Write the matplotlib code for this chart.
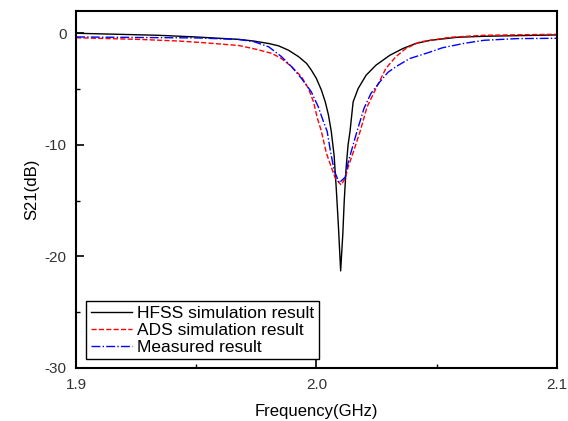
import matplotlib
matplotlib.use("Agg")
import matplotlib.pyplot as plt
from matplotlib.ticker import MultipleLocator

plt.rcParams['font.family'] = ['Liberation Sans', 'DejaVu Sans']
plt.rcParams['axes.unicode_minus'] = False

# HFSS simulation (GHz, dB)
hfss_f = [1.9000, 1.9339, 1.9496, 1.9678, 1.9740, 1.9802, 1.9843, 1.9884, 1.9926,
          1.9959, 1.9979, 2.0000, 2.0021, 2.0037, 2.0050, 2.0062, 2.0074, 2.0083,
          2.0091, 2.0101, 2.0110, 2.0116, 2.0124, 2.0132, 2.0140, 2.0153, 2.0174,
          2.0207, 2.0248, 2.0306, 2.0360, 2.0413, 2.0475, 2.0587, 2.0698, 2.1000]
hfss_db = [0.0, -0.18, -0.33, -0.55, -0.7, -0.92, -1.13, -1.52, -2.1,
           -2.7, -3.3, -4.05, -5.1, -6.15, -7.3, -8.8, -11.0, -14.0,
           -17.0, -21.3, -18.0, -15.0, -12.0, -10.0, -8.8, -6.15, -4.95,
           -3.76, -2.86, -1.97, -1.37, -0.92, -0.63, -0.36, -0.27, -0.15]

# ADS simulation
ads_f = [1.9000, 1.9264, 1.9430, 1.9533, 1.9678, 1.9752, 1.9814, 1.9855, 1.9897,
         1.9938, 1.9967, 1.9988, 2.0004, 2.0021, 2.0041, 2.0062, 2.0079, 2.0103,
         2.0120, 2.0132, 2.0153, 2.0182, 2.0211, 2.0248, 2.0289, 2.0331, 2.0372,
         2.0430, 2.0475, 2.0558, 2.0698, 2.0971, 2.1000]
ads_db = [-0.4, -0.55, -0.7, -0.85, -1.1, -1.45, -1.8, -2.27, -3.0,
          -3.9, -4.95, -6.15, -7.6, -8.8, -10.7, -12.0, -13.0, -13.6,
          -13.0, -12.0, -10.7, -8.8, -6.6, -4.95, -3.16, -2.1, -1.37,
          -0.78, -0.63, -0.36, -0.18, -0.1, -0.1]

# Measured
meas_f = [1.9000, 1.9264, 1.9510, 1.9678, 1.9740, 1.9802, 1.9855, 1.9897, 1.9938,
          1.9979, 2.0008, 2.0029, 2.0045, 2.0058, 2.0074, 2.0095, 2.0120, 2.0132,
          2.0149, 2.0169, 2.0198, 2.0227, 2.0264, 2.0298, 2.0331, 2.0388, 2.0471,
          2.0525, 2.0616, 2.0698, 2.0835, 2.1000]
meas_db = [-0.33, -0.38, -0.42, -0.56, -0.75, -1.22, -2.1, -3.0, -4.05,
           -5.25, -6.6, -7.9, -8.8, -10.5, -12.3, -13.4, -12.9, -11.6,
           -10.3, -8.8, -6.74, -5.4, -4.36, -3.5, -3.0, -2.27, -1.7,
           -1.3, -0.9, -0.63, -0.48, -0.45]

fig = plt.figure(figsize=(5.68, 4.21), dpi=100)
ax = fig.add_axes([0.134, 0.126, 0.846, 0.848])

ax.plot(hfss_f, hfss_db, color='black', lw=1.0, label='HFSS simulation result')
ax.plot(ads_f, ads_db, color='red', lw=1.0, ls='--', label='ADS simulation result')
ax.plot(meas_f, meas_db, color='blue', lw=1.0, ls='-.', label='Measured result')

ax.set_xlim(1.9, 2.1)
ax.set_ylim(-30, 2)
ax.xaxis.set_major_locator(MultipleLocator(0.1))
ax.xaxis.set_minor_locator(MultipleLocator(0.05))
ax.yaxis.set_major_locator(MultipleLocator(10))
ax.yaxis.set_minor_locator(MultipleLocator(5))
ax.xaxis.set_major_formatter(plt.FormatStrFormatter('%.1f'))
ax.tick_params(which='both', direction='in', top=False, right=False,
               labelsize=11, labelcolor='#333333', pad=7)
ax.tick_params(which='major', length=6, width=1.2)
ax.tick_params(which='minor', length=3, width=1.0)
for s in ax.spines.values():
    s.set_linewidth(1.5)

ax.set_xlabel('Frequency(GHz)', fontsize=12, labelpad=9)
ax.set_ylabel('S21(dB)', fontsize=12, labelpad=4)

leg = ax.legend(loc='lower left', bbox_to_anchor=(0.021, 0.025), fontsize=12.5,
                fancybox=False, edgecolor='black', framealpha=1,
                handlelength=2.4, borderpad=0.25, labelspacing=0.1,
                handletextpad=0.3, borderaxespad=0)
leg.get_frame().set_linewidth(1.0)

fig.savefig('out.png', dpi=100)
